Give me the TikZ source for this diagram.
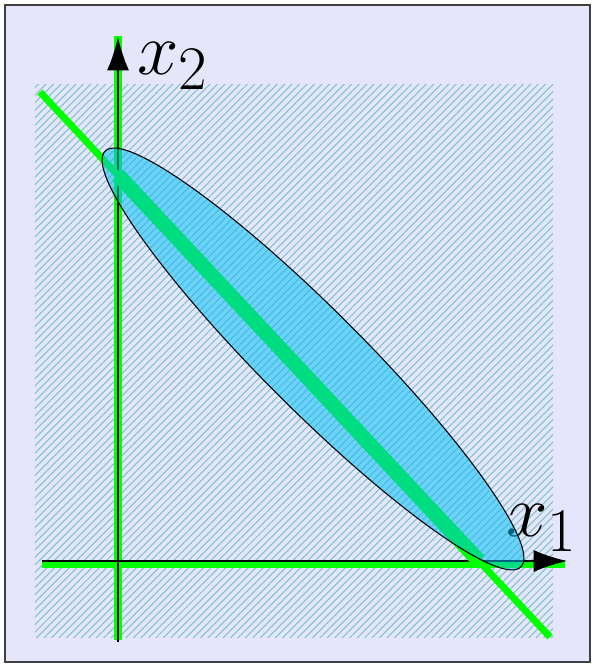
\documentclass[tikz,border=0pt]{standalone}
\usetikzlibrary{arrows.meta,patterns.meta}
\definecolor{bgpanel}{RGB}{230,230,250}
\definecolor{hatchcol}{RGB}{125,195,205}
\definecolor{ellfill}{RGB}{0,190,246}
\tikzset{
  greenline/.style={green,line width=4pt},
  axisline/.style={->,line width=0.8pt},
  axislabel/.style={inner sep=0pt,font=\Huge,scale=1.7},
}

\begin{document}
\begin{tikzpicture}[>={Latex[length=19pt,width=12.5pt]},scale=2.0]
  \useasboundingbox (-1.18,-1.06) rectangle (4.78,5.61);
  \draw[fill=bgpanel,draw=black!75,line width=0.6pt] (-1.13,-1.01) rectangle (4.72,5.56);
  \fill[pattern={Lines[angle=45,distance=3pt,line width=0.6pt]},pattern color=hatchcol]
    (-0.83,-0.76) rectangle (4.35,4.76);
  % axes
  \draw[greenline] (-0.76,-0.03) -- (4.47,-0.03);
  \draw[greenline] (0,-0.79) -- (0,5.25);
  \draw[axisline] (-0.76,0) -- (4.49,0);
  \draw[axisline] (0,-0.81) -- (0,5.24);
  \node[axislabel] (xone) at (4.24,0.33) {$x_1$};
  \node[axislabel] (xtwo) at (0.55,4.95) {$x_2$};
  % constraint line and segment
  \coordinate (top) at (-0.78,4.69);
  \coordinate (bot) at (4.32,-0.76);
  \coordinate (A) at (0,3.86);
  \coordinate (B) at (3.61,0);
  \draw[greenline] (top) -- (bot);
  \draw[green,line width=8.5pt] (A) -- (B);
  % level set
  \draw[fill=ellfill,fill opacity=0.52,line width=0.6pt,rotate around={-45:(1.95,2.02)}]
    (1.95,2.02) ellipse (2.94 and 0.50);
\end{tikzpicture}
\end{document}
